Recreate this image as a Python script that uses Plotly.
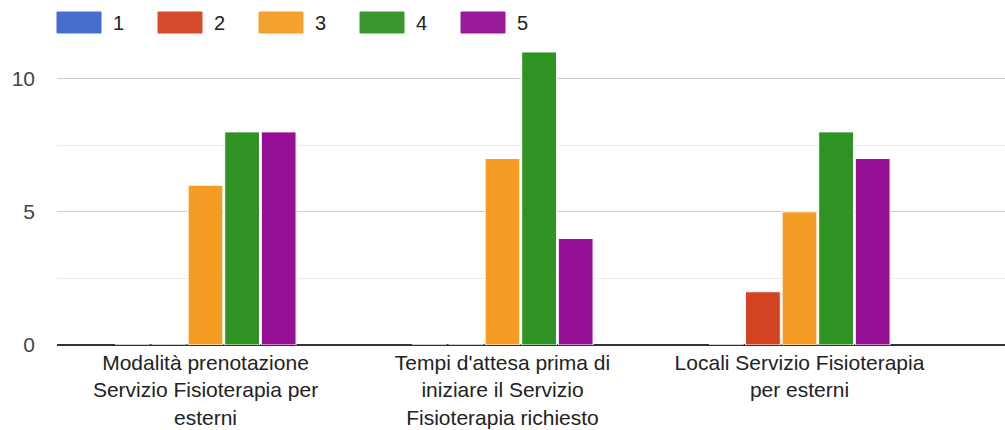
import plotly.graph_objects as go

categories = [
    "Modalità prenotazione<br>Servizio Fisioterapia per<br>esterni",
    "Tempi d'attesa prima di<br>iniziare il Servizio<br>Fisioterapia richiesto",
    "Locali Servizio Fisioterapia<br>per esterni",
]
series_names = ["1", "2", "3", "4", "5"]
values_1 = [0, 0, 0]
values_2 = [0, 0, 2]
values_3 = [6, 7, 5]
values_4 = [8, 11, 8]
values_5 = [8, 4, 7]
all_values = [values_1, values_2, values_3, values_4, values_5]
colors = ["#3e66cd", "#d34322", "#f59c24", "#2e9322", "#950f95"]

FONT = "Liberation Sans, Arial, sans-serif"

W, H = 1005, 430
ML, MR, MT, MB = 57, 0, 12, 85
PW = W - ML - MR
PH = H - MT - MB
cat_px = 297  # pixel width of one category slot

fig = go.Figure()
for name, vals, col in zip(series_names, all_values, colors):
    fig.add_trace(go.Bar(
        x=categories, y=vals, name=name,
        marker=dict(color=col, line=dict(color="white", width=1)),
        showlegend=False,
    ))

# custom legend (rectangular swatches like the reference)
pitch = 101 / PW
sw_w = 44 / PW
txt_off = 54 / PW
for i, (name, col) in enumerate(zip(series_names, colors)):
    x0 = i * pitch
    fig.add_shape(type="rect", xref="paper", yref="paper",
                  x0=x0, x1=x0 + sw_w, y0=1 - 21 / PH, y1=1.0,
                  fillcolor=col, line=dict(color=col, width=1), opacity=0.95)
    fig.add_annotation(xref="paper", yref="paper", x=x0 + txt_off, y=1 - 10.5 / PH,
                       text=name, showarrow=False, xanchor="left", yanchor="middle",
                       font=dict(family=FONT, size=20, color="#222222"))

fig.update_layout(
    width=W, height=H,
    margin=dict(l=ML, r=MR, t=MT, b=MB),
    paper_bgcolor="white", plot_bgcolor="white",
    barmode="group", bargap=0.384, bargroupgap=0.05,
    font=dict(family=FONT, size=21, color="#222222"),
)
fig.update_xaxes(
    range=[-0.5, -0.5 + PW / cat_px],
    showgrid=False, showline=False, ticks="",
    tickfont=dict(family=FONT, size=21, color="#222222"),
    ticklabelstandoff=3,
)
fig.update_yaxes(
    range=[0, 12.5], dtick=5, tick0=0,
    showgrid=True, gridcolor="#cccccc", gridwidth=1,
    minor=dict(dtick=2.5, showgrid=True, gridcolor="#ebebeb", gridwidth=1),
    zeroline=True, zerolinecolor="#333333", zerolinewidth=2,
    tickfont=dict(family=FONT, size=21, color="#444444"),
    ticklabelstandoff=21,
    showline=False, fixedrange=True,
)

fig.write_html(
    "out.html",
    config={"displayModeBar": False},
    post_script="document.body.style.margin='0';document.body.style.overflow='hidden';",
)
